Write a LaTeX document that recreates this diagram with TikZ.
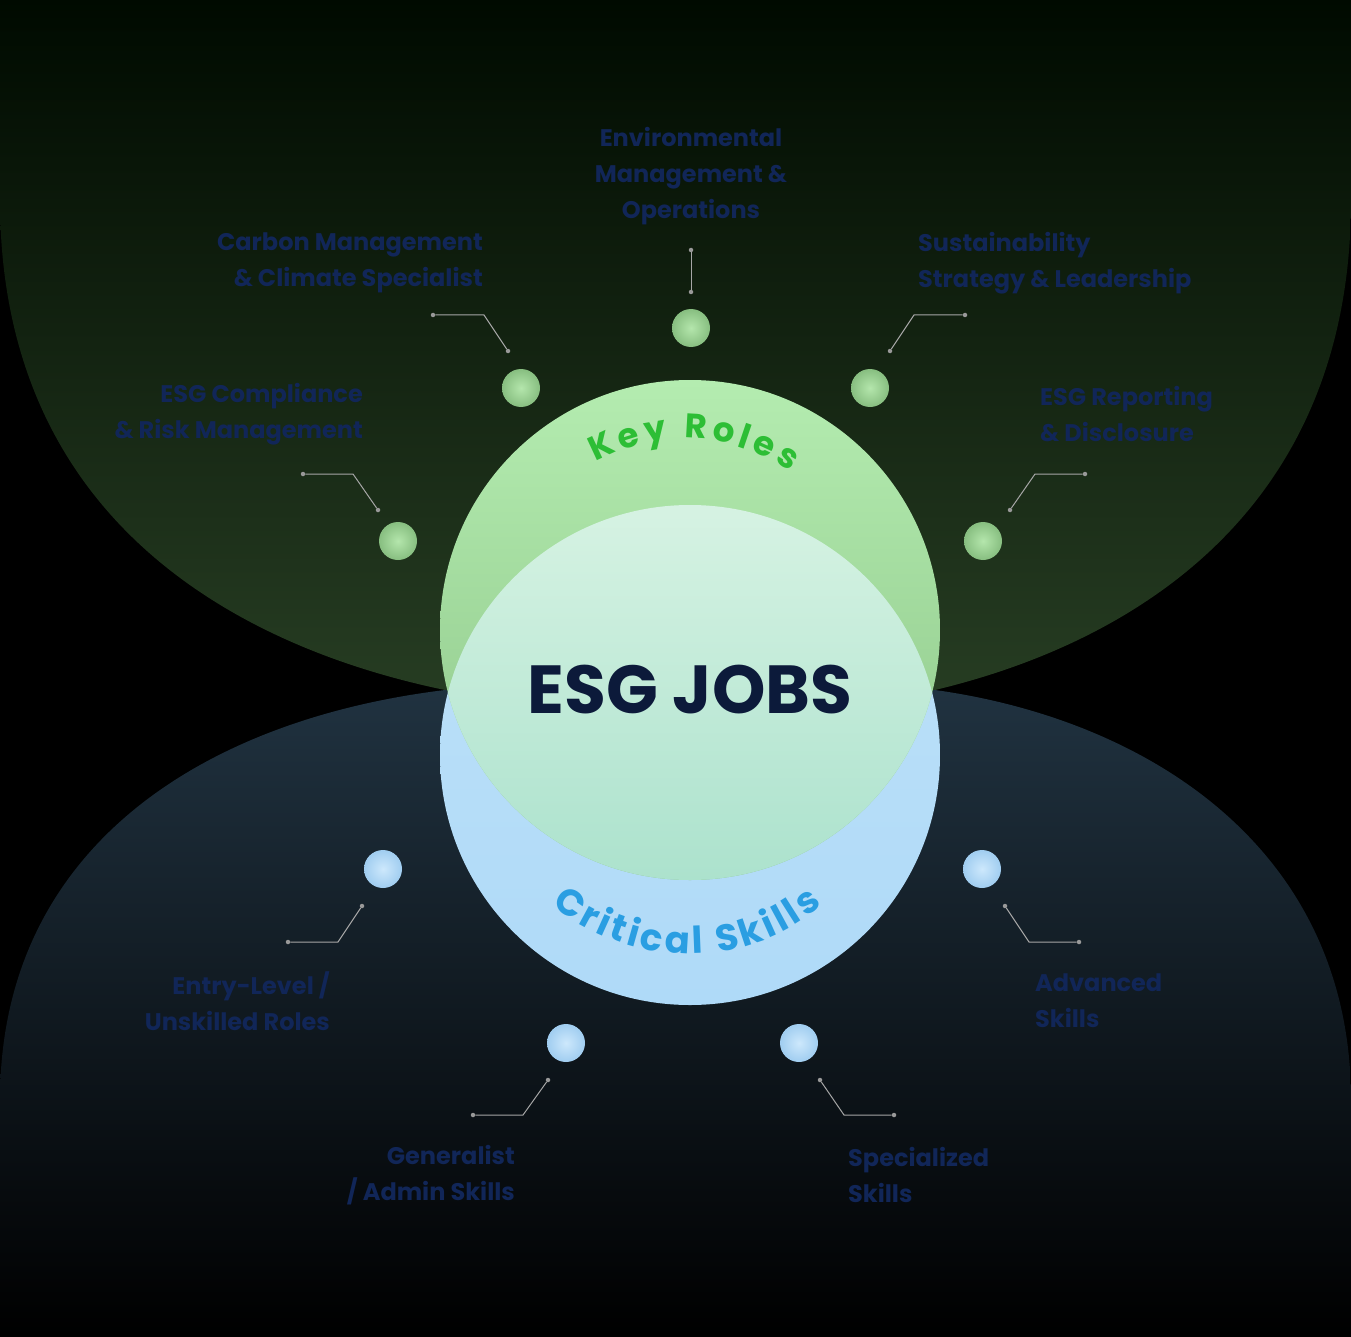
\documentclass[tikz,border=0pt]{standalone}
\usepackage{fontspec}
\setmainfont{Poppins}
\usetikzlibrary{decorations.text}
\definecolor{lab}{HTML}{112658}
\definecolor{gdot}{HTML}{9FD79A}
\definecolor{bdot}{HTML}{B6DDF8}
\tikzset{
 lbl/.style={text=lab,font=\fontsize{24}{36}\selectfont\bfseries,inner sep=0pt},
 conn/.style={draw=gray!70,line width=1pt},
 endpt/.style={circle,fill=gray!80,inner sep=0pt,minimum size=4.5pt},
 gball/.style={circle,minimum size=38pt,inner sep=0pt,inner color={rgb,255:red,180;green,230;blue,172},outer color={rgb,255:red,135;green,190;blue,128}},
 bball/.style={circle,minimum size=38pt,inner sep=0pt,inner color={rgb,255:red,205;green,232;blue,252},outer color={rgb,255:red,160;green,205;blue,240}},
}
\begin{document}
\begin{tikzpicture}[x=1pt,y=-1pt]
\fill[black] (0,0) rectangle (1351,1337);
\useasboundingbox (0,0) rectangle (1351,1337);
% blobs
\shade[top color=black!90!green!40!black, bottom color={rgb,255:red,38;green,60;blue,34}]
 (0,0) -- (1351,0) -- (1351,200) .. controls (1351,560) and (1060,660) .. (935,690)
 -- (445,690) .. controls (300,660) and (0,560) .. (0,200) -- cycle;
\shade[top color={rgb,255:red,32;green,50;blue,64}, bottom color=black]
 (445,690) .. controls (200,720) and (0,850) .. (0,1100) -- (0,1337) -- (1351,1337)
 -- (1351,1100) .. controls (1351,850) and (1150,720) .. (935,690) -- cycle;
% circles
\shade[top color={rgb,255:red,190;green,225;blue,248}, bottom color={rgb,255:red,175;green,218;blue,248}] (690,755) circle (250);
\shade[top color={rgb,255:red,180;green,236;blue,176}, bottom color={rgb,255:red,140;green,196;blue,135}] (690,630) circle (250);
\begin{scope}
\clip (690,755) circle (250);
\shade[top color={rgb,255:red,228;green,248;blue,234}, bottom color={rgb,255:red,172;green,226;blue,205}] (690,630) circle (250);
\end{scope}
\node[text={rgb,255:red,12;green,26;blue,58},font=\fontsize{68}{70}\selectfont\bfseries] (title) at (690,690) {ESG JOBS};
\path[decorate,decoration={text along path,text align=fit to path,
 text={|\fontsize{34}{34}\selectfont\bfseries\color[HTML]{2DBE35}|Key Roles}}]
 (596,462) .. controls (660,428) and (728,430) .. (790,472);
\path[decorate,decoration={text along path,text align=fit to path,
 text={|\fontsize{37}{37}\selectfont\bfseries\color[HTML]{2A9EE2}|Critical Skills}}]
 (552,905) .. controls (630,968) and (745,972) .. (822,905);
% balls
\node[gball] (g1) at (691,328) {};
\node[gball] (g2) at (521,388) {};
\node[gball] (g3) at (870,388) {};
\node[gball] (g4) at (398,541) {};
\node[gball] (g5) at (983,541) {};
\node[bball] (b1) at (383,869) {};
\node[bball] (b2) at (982,869) {};
\node[bball] (b3) at (566,1043) {};
\node[bball] (b4) at (799,1043) {};
% connectors
\node[endpt] (a1) at (691,250) {}; \node[endpt] (a2) at (691,292) {};
\draw[conn] (a1) -- (a2);
\node[endpt] (c1) at (433,315) {}; \node[endpt] (c2) at (508,351) {};
\draw[conn] (c1) -- (484,315) -- (c2);
\node[endpt] (s1) at (965,315) {}; \node[endpt] (s2) at (890,351) {};
\draw[conn] (s1) -- (914,315) -- (s2);
\node[endpt] (e1) at (303,474) {}; \node[endpt] (e2) at (378,510) {};
\draw[conn] (e1) -- (353,474) -- (e2);
\node[endpt] (r1) at (1085,474) {}; \node[endpt] (r2) at (1010,510) {};
\draw[conn] (r1) -- (1035,474) -- (r2);
\node[endpt] (n1) at (288,942) {}; \node[endpt] (n2) at (362,906) {};
\draw[conn] (n1) -- (338,942) -- (n2);
\node[endpt] (v1) at (1079,942) {}; \node[endpt] (v2) at (1005,906) {};
\draw[conn] (v1) -- (1029,942) -- (v2);
\node[endpt] (q1) at (473,1115) {}; \node[endpt] (q2) at (548,1080) {};
\draw[conn] (q1) -- (523,1115) -- (q2);
\node[endpt] (p1) at (894,1115) {}; \node[endpt] (p2) at (820,1080) {};
\draw[conn] (p1) -- (844,1115) -- (p2);
% labels
\node[lbl,align=center] (l1) at (691,176) {Environmental\\Management \&\\Operations};
\node[lbl,align=right,anchor=east] (l2) at (483,263) {Carbon Management\\\& Climate Specialist};
\node[lbl,align=left,anchor=west] (l3) at (918,263) {Sustainability\\Strategy \& Leadership};
\node[lbl,align=right,anchor=east] (l4) at (363,414) {ESG Compliance\\\& Risk Management};
\node[lbl,align=left,anchor=west] (l5) at (1040,414) {ESG Reporting\\\& Disclosure};
\node[lbl,align=right,anchor=east] (l6) at (330,1001) {Entry-Level /\\Unskilled Roles};
\node[lbl,align=left,anchor=west] (l7) at (1035,1001) {Advanced\\Skills};
\node[lbl,align=right,anchor=east] (l8) at (515,1175) {Generalist\\/ Admin Skills};
\node[lbl,align=left,anchor=west] (l9) at (848,1175) {Specialized\\Skills};
\end{tikzpicture}
\end{document}
